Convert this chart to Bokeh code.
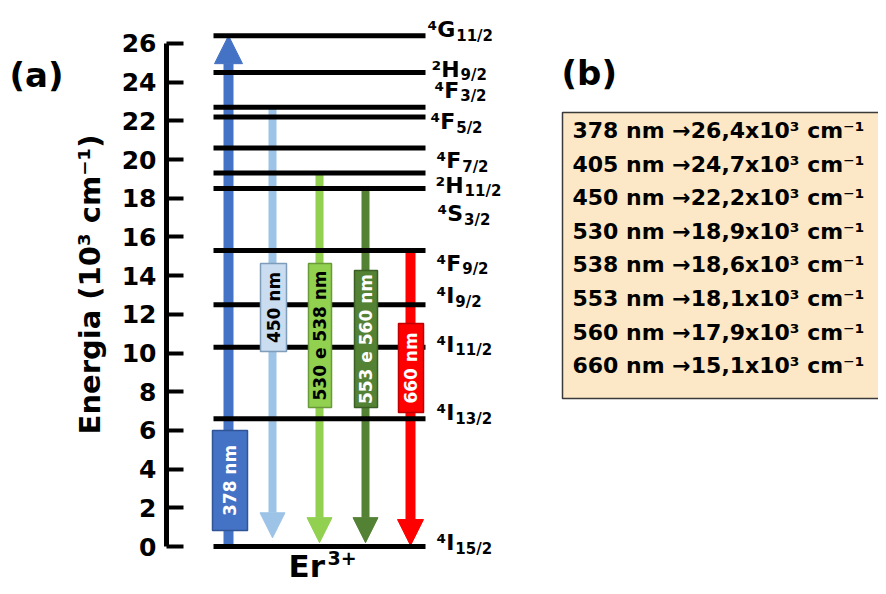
import math
from bokeh.plotting import figure
from bokeh.models import Range1d, FixedTicker, Arrow, NormalHead
from bokeh.embed import file_html
from bokeh.resources import INLINE
from bokeh.core.properties import value

# ---------------- data ----------------
level_sup = ["⁴", "⁴", "⁴", "⁴", "⁴", "⁴", "²", "⁴", "⁴", "⁴", "²", "⁴"]
level_letter = ["I", "I", "I", "I", "F", "S", "H", "F", "F", "F", "H", "G"]
level_sub = ["15/2", "13/2", "11/2", "9/2", "9/2", "3/2", "11/2", "7/2", "5/2", "3/2", "9/2", "11/2"]
level_energy = [0.0, 6.6, 10.3, 12.5, 15.3, 18.5, 19.3, 20.6, 22.2, 22.7, 24.5, 26.4]

transition_labels = ["378 nm", "450 nm", "530 e 538 nm", "553 e 560 nm", "660 nm"]
transition_from = [0.0, 22.7, 19.4, 18.5, 15.4]
transition_to = [26.4, 0.45, 0.2, 0.2, 0.05]
transition_colors = ["#4472C4", "#9DC3E6", "#92D050", "#548235", "#FF0000"]

table_wavelength = [378, 405, 450, 530, 538, 553, 560, 660]
table_energy = [26.4, 24.7, 22.2, 18.9, 18.6, 18.1, 17.9, 15.1]

y_ticks = [0, 2, 4, 6, 8, 10, 12, 14, 16, 18, 20, 22, 24, 26]

# ---------------- layout / style ----------------
W, H = 878, 586
Y0 = 546.0        # picture y of energy 0
PPU = 19.35       # pixels per 10^3 cm-1
AXIS_X = 166
FONT = "DejaVu Sans"

LINE_X0, LINE_X1 = 213, 425
arrow_x = [228, 272, 319, 365, 410]
arrow_w = [10, 8, 8, 8, 10]
head_size = [28, 25, 25, 25, 26]

box_left = [212, 260, 308, 354, 398]
box_right = [247, 286, 331, 377, 423]
box_bottom = [0.83, 10.08, 7.18, 7.18, 6.93]
box_top = [6.0, 14.63, 14.63, 14.26, 11.52]
box_fill = ["#4472C4", "#C9DCF0", "#92D050", "#548235", "#FF0000"]
box_line = ["#2F5597", "#7F9DB9", "#6A9A3A", "#3B5E25", "#C00000"]
box_text_color = ["white", "black", "black", "white", "white"]

label_x = [436, 436, 436, 436, 436, 437, 435, 436, 430, 434, 431, 427]
label_dy = [-4, -6, -3, -9, 13, 25, 12, 13, 5, -17, -3, -6]

MAIN_FS = 22
SUB_FS = 15
adv = {"⁴": 0.44, "²": 0.44, "G": 0.821, "H": 0.838, "F": 0.683, "S": 0.720, "I": 0.372}

p = figure(width=W, height=H, output_backend="svg", toolbar_location=None,
           x_range=Range1d(0, W),
           y_range=Range1d(-(H - Y0) / PPU, Y0 / PPU),
           x_axis_location=None, y_axis_location="left", title=None,
           min_border_left=0, min_border_right=0,
           min_border_top=0, min_border_bottom=0)
p.extra_y_ranges = {"px": Range1d(start=H, end=0)}
p.outline_line_color = None
p.grid.grid_line_color = None
p.background_fill_color = "white"
p.border_fill_color = "white"

ax = p.yaxis[0]
ax.fixed_location = AXIS_X
ax.ticker = FixedTicker(ticks=y_ticks)
ax.bounds = (y_ticks[0], y_ticks[-1])
ax.axis_line_width = 5
ax.axis_line_color = "black"
ax.major_tick_line_width = 4
ax.major_tick_line_color = "black"
ax.major_tick_in = 17
ax.major_tick_out = 0
ax.minor_tick_line_color = None
ax.major_label_text_font = FONT
ax.major_label_text_font_style = "bold"
ax.major_label_text_font_size = "25px"
ax.major_label_text_color = "black"
ax.major_label_standoff = 10

# arrows (under the level lines)
for i in range(len(transition_labels)):
    c = transition_colors[i]
    p.add_layout(Arrow(end=NormalHead(size=head_size[i], fill_color=c, line_color=c, line_width=1),
                       x_start=arrow_x[i], y_start=transition_from[i],
                       x_end=arrow_x[i], y_end=transition_to[i],
                       line_color=c, line_width=arrow_w[i], level="underlay"))

# energy levels
p.segment(x0=LINE_X0, x1=LINE_X1, y0=level_energy, y1=level_energy,
          line_width=5, line_color="black")

# transition label boxes
p.quad(left=box_left, right=box_right, bottom=box_bottom, top=box_top,
       fill_color=box_fill, line_color=box_line, line_width=1.5)
p.text(x=[(a + b) / 2 for a, b in zip(box_left, box_right)],
       y=[(a + b) / 2 for a, b in zip(box_bottom, box_top)],
       text=transition_labels, angle=math.pi / 2, text_align="center", text_baseline="middle",
       text_font=value(FONT), text_font_style="bold", text_font_size="17px",
       text_color=box_text_color)

# level labels
main_txt = [s + l for s, l in zip(level_sup, level_letter)]
main_w = [(adv[s] + adv[l]) * MAIN_FS for s, l in zip(level_sup, level_letter)]
p.text(x=label_x, y=level_energy, text=main_txt, y_offset=label_dy,
       text_align="left", text_baseline="middle", text_font=value(FONT),
       text_font_style="bold", text_font_size=f"{MAIN_FS}px", text_color="black")
p.text(x=label_x, y=level_energy, text=level_sub, x_offset=[w + 1 for w in main_w],
       y_offset=[d + 6 for d in label_dy],
       text_align="left", text_baseline="middle", text_font=value(FONT),
       text_font_style="bold", text_font_size=f"{SUB_FS}px", text_color="black")

# Er3+
p.text(x=[288], y=[565], text=["Er"], y_range_name="px", text_align="left", text_baseline="middle",
       text_font=value(FONT), text_font_style="bold", text_font_size="31px", text_color="black")
p.text(x=[327], y=[557], text=["3+"], y_range_name="px", text_align="left", text_baseline="middle",
       text_font=value(FONT), text_font_style="bold", text_font_size="19px", text_color="black")

# panel (b) table
rows = [f"{w} nm →" + f"{e:.1f}".replace(".", ",") + "x10³ cm⁻¹" for w, e in zip(table_wavelength, table_energy)]
p.quad(left=562, right=900, top=112, bottom=398, y_range_name="px",
       fill_color="#FCE8C6", line_color="#3A3A3A", line_width=1.5)
p.text(x=572, y=[130 + 33.6 * i for i in range(len(rows))], text=rows, y_range_name="px",
       text_align="left", text_baseline="middle", text_font=value(FONT), text_font_style="bold",
       text_font_size="22px", text_color="black")
p.text(x=[561], y=[72], text=["(b)"], y_range_name="px", text_align="left", text_baseline="middle",
       text_font=value(FONT), text_font_style="bold", text_font_size="34px", text_color="black")

# panel (a) and axis title
p.text(x=[9], y=[74], text=["(a)"], y_range_name="px", text_align="left", text_baseline="middle",
       text_font=value(FONT), text_font_style="bold", text_font_size="34px", text_color="black")
p.text(x=[89], y=[284], text=["Energia (10³ cm⁻¹)"], y_range_name="px", angle=math.pi / 2,
       text_align="center", text_baseline="middle",
       text_font=value(FONT), text_font_style="bold", text_font_size="29px", text_color="black")

open("out.html", "w").write(file_html(p, INLINE))
